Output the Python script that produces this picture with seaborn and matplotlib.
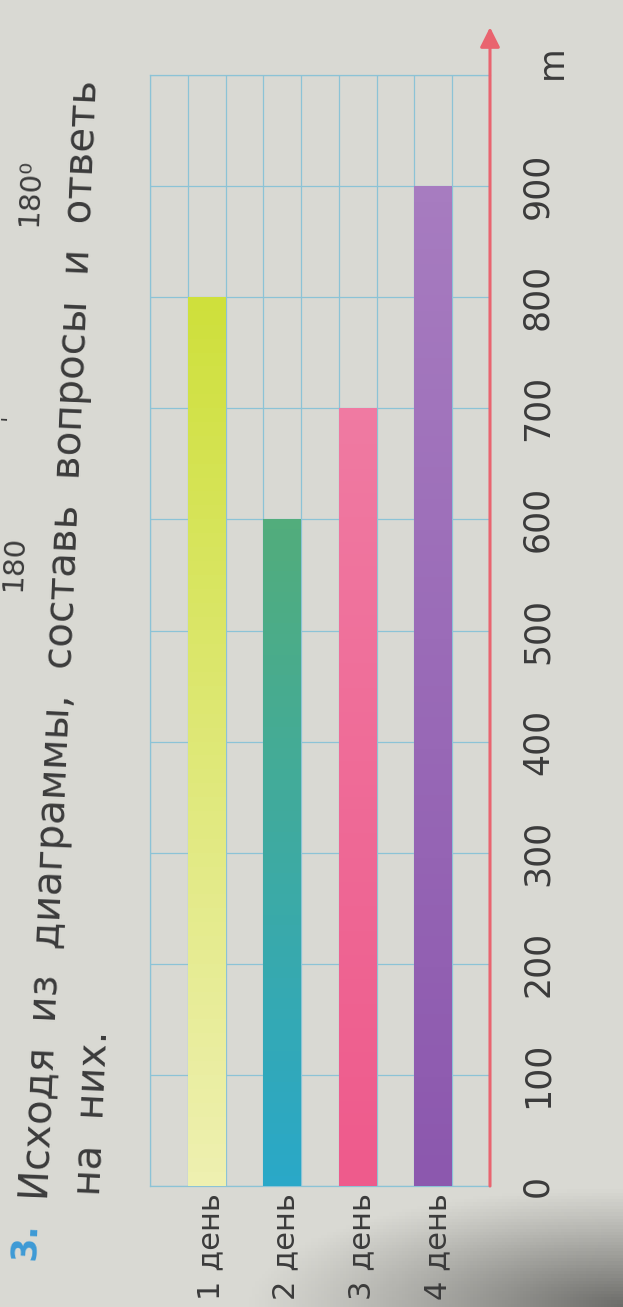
import numpy as np
import pandas as pd
import matplotlib
matplotlib.use("Agg")
import matplotlib.pyplot as plt
import matplotlib.transforms as mtransforms
import seaborn as sns
from matplotlib.colors import to_rgb

# data
days = ["1 день", "2 день", "3 день", "4 день"]
distance_m = [800, 600, 700, 900]
day_column = [1, 3, 5, 7]          # grid column each bar stands in (9 columns, 0..8)
value_ticks = [0, 100, 200, 300, 400, 500, 600, 700, 800, 900, 1000]
value_labels = ["0", "100", "200", "300", "400", "500", "600", "700", "800", "900", ""]

# bar colours (bottom -> top, the print is a bit graded)
bar_bottom = ["#eef0b0", "#2aa8c8", "#ee5b8c", "#8c58ae"]
bar_top = ["#cfe03c", "#52ad7c", "#f07aa2", "#a77cc0"]

paper = np.array(to_rgb("#d9d9d3"))
ink = "#3b3b3b"
grid_blue = "#8cc3d6"
axis_red = "#e9646f"

sns.set_theme(style="white")
plt.rcParams['font.family'] = ['DejaVu Sans']

W, H = 623, 1307
fig = plt.figure(figsize=(W / 100, H / 100), dpi=100)

# paper background with the dark corner of the photo
bg = fig.add_axes([0, 0, 1, 1])
bg.axis("off")
v, u = np.mgrid[0:1:400j, 0:1:200j]
d = np.sqrt(((1 - u) / 0.6) ** 2 + ((1 - v) / 0.09) ** 2)
dark = np.clip(1 - d, 0, 1) ** 1.1 * 0.5
img = paper[None, None, :] * (1 - dark[..., None])
bg.imshow(img, aspect="auto", extent=[0, 1, 0, 1], origin="upper")
bg.set_xlim(0, 1)
bg.set_ylim(0, 1)

# chart axes (pixel box of the grid)
left, right, top, bottom = 150, 490, 75, 1186
ax = fig.add_axes([left / W, 1 - bottom / H, (right - left) / W, (bottom - top) / H])
ax.set_facecolor("none")

df = pd.DataFrame({"column": day_column, "distance": distance_m, "day": days})
sns.barplot(data=df, x="column", y="distance", hue="day", palette=bar_top,
            native_scale=True, width=0.5, dodge=False, legend=False,
            saturation=1, errorbar=None, ax=ax, zorder=3)

# graded fill inside each bar
for patch, c0, c1 in zip(ax.patches, bar_bottom, bar_top):
    x0, y0 = patch.get_x(), patch.get_y()
    w, h = patch.get_width(), patch.get_height()
    t = np.linspace(0, 1, 64)[:, None]
    grad = (1 - t) * np.array(to_rgb(c0)) + t * np.array(to_rgb(c1))
    im = ax.imshow(grad[:, None, :].repeat(2, axis=1), extent=[x0, x0 + w, y0, y0 + h],
                   origin="lower", aspect="auto", zorder=4)
    im.set_clip_path(patch)
    patch.set_edgecolor("none")
ax.set_aspect("auto")
ax.set_xlim(-0.5, 8.5)
ax.set_ylim(0, 1000)

# category labels under the grid
ax.set_xticks(day_column)
ax.set_xticklabels(days, rotation=90, fontsize=22, color=ink, va="top", ha="center")
ax.tick_params(axis="x", which="both", length=0, pad=5)
ax.set_xlabel("")
# labels sit a little right of the bar centres in the photo
for lab in ax.get_xticklabels():
    shift = mtransforms.ScaledTranslation(4 / 100, 0, fig.dpi_scale_trans)
    lab.set_transform(lab.get_transform() + shift)

# value scale on the right
ax.yaxis.tick_right()
ax.set_yticks(value_ticks)
ax.set_yticklabels(value_labels, rotation=90, fontsize=25, color=ink, va="center")
ax.tick_params(axis="y", which="both", length=0, pad=22)
ax.set_ylabel("")

# grid
ax.set_xticks(np.arange(-0.5, 9, 1), minor=True)
ax.xaxis.grid(True, which="minor", color=grid_blue, linewidth=0.9)
ax.xaxis.grid(False, which="major")
ax.yaxis.grid(True, which="major", color=grid_blue, linewidth=0.9)
ax.set_axisbelow(True)
for s in ["left", "top", "bottom"]:
    ax.spines[s].set_color(grid_blue)
    ax.spines[s].set_linewidth(0.9)
ax.spines["right"].set_visible(False)

# red value axis with arrow
ax.annotate("", xy=(1, 1.043), xytext=(1, 0), xycoords="axes fraction",
            arrowprops=dict(arrowstyle="-|>", color=axis_red, lw=2.2,
                            mutation_scale=30, shrinkA=0, shrinkB=0))
fig.text(552 / W, 1 - 62 / H, "m", rotation=90, fontsize=25, color=ink,
         ha="center", va="center")

# exercise text (rotated page)
rot = 87.5
fig.text(24 / W, 1 - 1260 / H, "3.", rotation=rot, rotation_mode="anchor",
         fontsize=25, color="#3d9ad6", fontweight="bold", ha="left", va="center")
fig.text(37 / W, 1 - 1200 / H, "Исходя  из  диаграммы,  составь  вопросы  и  ответь",
         rotation=rot, rotation_mode="anchor", fontsize=29, color=ink,
         ha="left", va="center")
fig.text(90 / W, 1 - 1195 / H, "на  них.", rotation=rot, rotation_mode="anchor",
         fontsize=29, color=ink, ha="left", va="center")

# bits of the previous exercise at the page edge
fig.text(30 / W, 1 - 192 / H, "180⁰", rotation=rot, fontsize=21, color=ink,
         ha="center", va="center")
fig.text(14 / W, 1 - 563 / H, "180", rotation=rot, fontsize=21, color=ink,
         ha="center", va="center")
fig.text(10 / W, 1 - 417 / H, "'", rotation=rot, fontsize=16, color=ink,
         ha="center", va="center")

fig.savefig("out.png", dpi=100)
